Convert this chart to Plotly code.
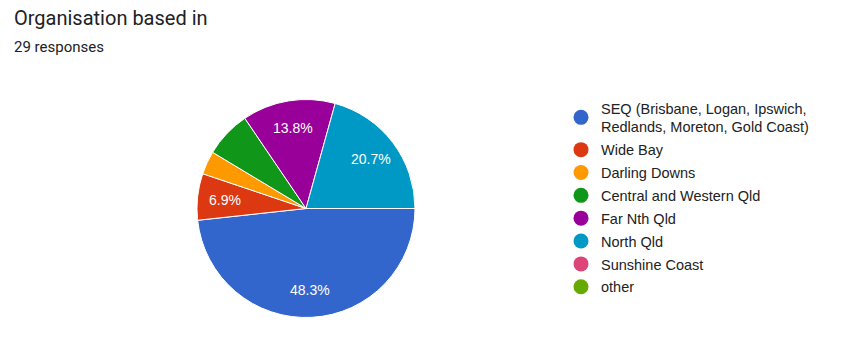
import math
import plotly.graph_objects as go

title = "Organisation based in"
subtitle = "29 responses"
categories = [
    "SEQ (Brisbane, Logan, Ipswich,<br>Redlands, Moreton, Gold Coast)",
    "Wide Bay",
    "Darling Downs",
    "Central and Western Qld",
    "Far Nth Qld",
    "North Qld",
    "Sunshine Coast",
    "other",
]
counts = [14, 2, 1, 2, 4, 6, 0, 0]
show_label = [True, True, False, False, True, True, False, False]
colors = ["#3366cc", "#dc3912", "#ff9900", "#109618", "#990099", "#0099c6", "#dd4477", "#66aa00"]

total = sum(counts)

W, H = 850, 354
cx, cy, r = 306, 208.5, 109
start_deg = 90  # first slice starts at 3 o'clock, clockwise
label_frac = 0.75

fig = go.Figure()
fig.add_trace(go.Pie(
    labels=categories, values=counts, textinfo="none",
    sort=False, direction="clockwise", rotation=start_deg,
    marker=dict(colors=colors, line=dict(color="white", width=1)),
    showlegend=False, hoverinfo="label+percent",
    domain=dict(x=[(cx - r) / W, (cx + r) / W], y=[(H - cy - r) / H, (H - cy + r) / H]),
))

for i, (name, col) in enumerate(zip(categories, colors)):
    fig.add_trace(go.Scatter(
        x=[None], y=[None], mode="markers", name=name, legendgroup=f"g{i}",
        marker=dict(symbol="circle", size=15, color=col),
        hoverinfo="skip",
    ))

annotations = [
    dict(text=title, x=12 / W, y=1 - 4 / H, xref="paper", yref="paper",
         xanchor="left", yanchor="top", showarrow=False,
         font=dict(family="Roboto, Open Sans", size=20, color="#202124")),
    dict(text=subtitle, x=12 / W, y=1 - 36 / H, xref="paper", yref="paper",
         xanchor="left", yanchor="top", showarrow=False,
         font=dict(family="Roboto, Open Sans", size=15, color="#202124")),
]

cum = 0
for c, s in zip(counts, show_label):
    mid = start_deg + (cum + c / 2) / total * 360
    cum += c
    if not s:
        continue
    th = math.radians(mid)
    px = cx + label_frac * r * math.sin(th)
    py = cy - label_frac * r * math.cos(th)
    annotations.append(dict(
        text=f"{c / total * 100:.1f}%", x=px / W, y=1 - py / H,
        xref="paper", yref="paper", xanchor="center", yanchor="middle",
        showarrow=False,
        font=dict(family="Liberation Sans", size=14, color="white"),
    ))

fig.update_layout(
    width=W, height=H, margin=dict(l=0, r=0, t=0, b=0),
    paper_bgcolor="white", plot_bgcolor="white",
    xaxis=dict(visible=False), yaxis=dict(visible=False),
    legend=dict(x=561 / W, y=1 - 92 / H, xanchor="left", yanchor="top",
                font=dict(family="Liberation Sans", size=14.5, color="#222222"),
                tracegroupgap=1, itemwidth=30, bgcolor="rgba(0,0,0,0)"),
    annotations=annotations,
)

fig.write_html("out.html")
